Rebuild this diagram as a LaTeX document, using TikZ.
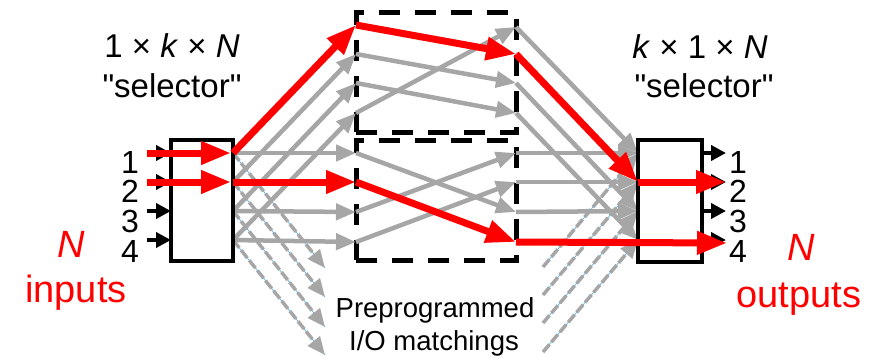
\documentclass[tikz,border=0pt]{standalone}
\usepackage{fontspec}
\setmainfont{Liberation Sans}[Ligatures=TeXOff]
\usetikzlibrary{arrows.meta}
\definecolor{gr}{HTML}{A6A6A6}
\definecolor{cy}{HTML}{4FB8E8}
\definecolor{rd}{HTML}{FF0000}
\tikzset{
  grayarr/.style={draw=gr, line width=4.5pt, -{Triangle[length=20pt,width=16pt]}},
  redarr/.style={draw=rd, line width=7pt, -{Triangle[length=30pt,width=22pt]}},
  blkarr/.style={draw=black, line width=4pt, -{Triangle[length=15pt,width=15pt]}},
  fanline/.style={draw=cy, line width=0.7pt},
  fanray/.style={draw=gr, line width=3.5pt, dash pattern=on 10pt off 3pt, -{Triangle[length=18pt,width=15pt]}},
  selbox/.style={draw=black, fill=white, line width=4.5pt, inner sep=0pt, rectangle},
  dbox/.style={draw=black, line width=5pt, dash pattern=on 21pt off 15pt, inner sep=0pt, rectangle, minimum width=160pt, minimum height=120pt},
  big/.style={font=\fontsize{33}{38}\selectfont, anchor=base, inner sep=0pt},
  num/.style={font=\fontsize{32}{36}\selectfont, anchor=base, inner sep=0pt},
  redtxt/.style={font=\fontsize{38}{44}\selectfont, anchor=base, inner sep=0pt, text=rd},
  note/.style={font=\fontsize{27.5}{32}\selectfont, anchor=base, inner sep=0pt}
}
\begin{document}
\begin{tikzpicture}[x=1pt,y=-1pt]
\useasboundingbox (0,0) rectangle (876,357);

% dashed matching boxes
\node[dbox] (ubox) at (436,72) {};
\node[dbox] (dbx) at (436,200) {};

% port coordinates
\foreach \i/\y in {1/153,2/182,3/211,4/240} {
  \coordinate (a\i) at (147,\y);
  \coordinate (b\i) at (171,\y);
  \coordinate (c\i) at (233,\y);
  \coordinate (r\i) at (638,\y);
  \coordinate (s\i) at (702,\y);
  \coordinate (t\i) at (726,\y);
}
\foreach \i/\y in {1/25,2/54,3/83,4/113} \coordinate (ul\i) at (356,\y);
\foreach \i/\y in {1/27,2/54,3/83,4/113} \coordinate (ur\i) at (516,\y);
\foreach \i/\y in {1/153,2/182,3/212,4/242} {
  \coordinate (dl\i) at (356,\y);
  \coordinate (dr\i) at (516,\y);
}
\foreach \i/\y in {1/268,2/297,3/327,4/355} \coordinate (f\i) at (325,\y);
\foreach \i/\y in {1/267,2/295,3/323,4/352} \coordinate (g\i) at (543,\y);
\coordinate (t4r) at (727,243);

% fan rays (other matchings)
\foreach \i in {1,2,3,4} {
  \draw[fanline] (c\i) -- (f\i);
  \draw[fanray] (c\i) -- (f\i);
  \draw[fanline] (g\i) -- (r\i);
  \draw[fanray] (g\i) -- (r\i);
}

% gray connections: left selector to boxes
\foreach \i in {2,3,4} \draw[grayarr] (c\i) -- (ul\i);
\foreach \i in {1,3,4} \draw[grayarr] (c\i) -- (dl\i);
% inside upper box
\draw[grayarr] (ul2) -- (ur3);
\draw[grayarr] (ul3) -- (ur4);
\draw[grayarr] (ul4) -- (ur1);
% inside lower box
\draw[grayarr] (dl1) -- (dr3);
\draw[grayarr] (dl3) -- (dr1);
\draw[grayarr] (dl4) -- (dr2);
% boxes to right selector
\draw[grayarr] (ur1) -- (r1);
\draw[grayarr] (ur3) -- (r3);
\draw[grayarr] (ur4) -- (r4);
\draw[grayarr] (dr1) -- (r1);
\draw[grayarr] (dr2) -- (r2);
\draw[grayarr] (dr3) -- (r3);

% black input / output arrows
\foreach \i in {1,2,3,4} {
  \draw[blkarr] (a\i) -- (b\i);
  \draw[blkarr] (s\i) -- (t\i);
}

% selectors
\node[selbox, minimum width=62pt, minimum height=121pt] (lsel) at (202,200.5) {};
\node[selbox, minimum width=64pt, minimum height=122pt] (rsel) at (670,201) {};

% red path(s)
\draw[redarr] (a1) -- ([xshift=-2pt]c1);
\draw[redarr] (a2) -- ([xshift=-2pt]c2);
\draw[redarr] (c1) -- (ul1);
\draw[redarr] (c2) -- (dl2);
\draw[redarr] (ul1) -- (ur2);
\draw[redarr] (dl2) -- (dr4);
\draw[redarr] (ur2) -- (r2);
\draw[redarr] (r2) -- (t2);
\draw[redarr] (dr4) -- (t4r);

% texts
\node[big] (ltitle) at (172,57) {1 × \textit{k} × \textit{N}};
\node[big] (lsub) at (172,97) {"selector"};
\node[big] (rtitle) at (700,58) {\textit{k} × 1 × \textit{N}};
\node[big] (rsub) at (704,97) {"selector"};

\foreach \i/\y in {1/173,2/202,3/232,4/262} {
  \node[num] (ln\i) at (130,\y) {\i};
  \node[num] (rn\i) at (738,\y) {\i};
}

\node[redtxt] (lN) at (71,257) {\textit{N}};
\node[redtxt] (lin) at (76,302) {inputs};
\node[redtxt] (rN) at (801,260) {\textit{N}};
\node[redtxt] (rout) at (799,307) {outputs};

\node[note] (pre) at (435,317) {Preprogrammed};
\node[note] (io) at (434,350) {I/O matchings};
\end{tikzpicture}
\end{document}
